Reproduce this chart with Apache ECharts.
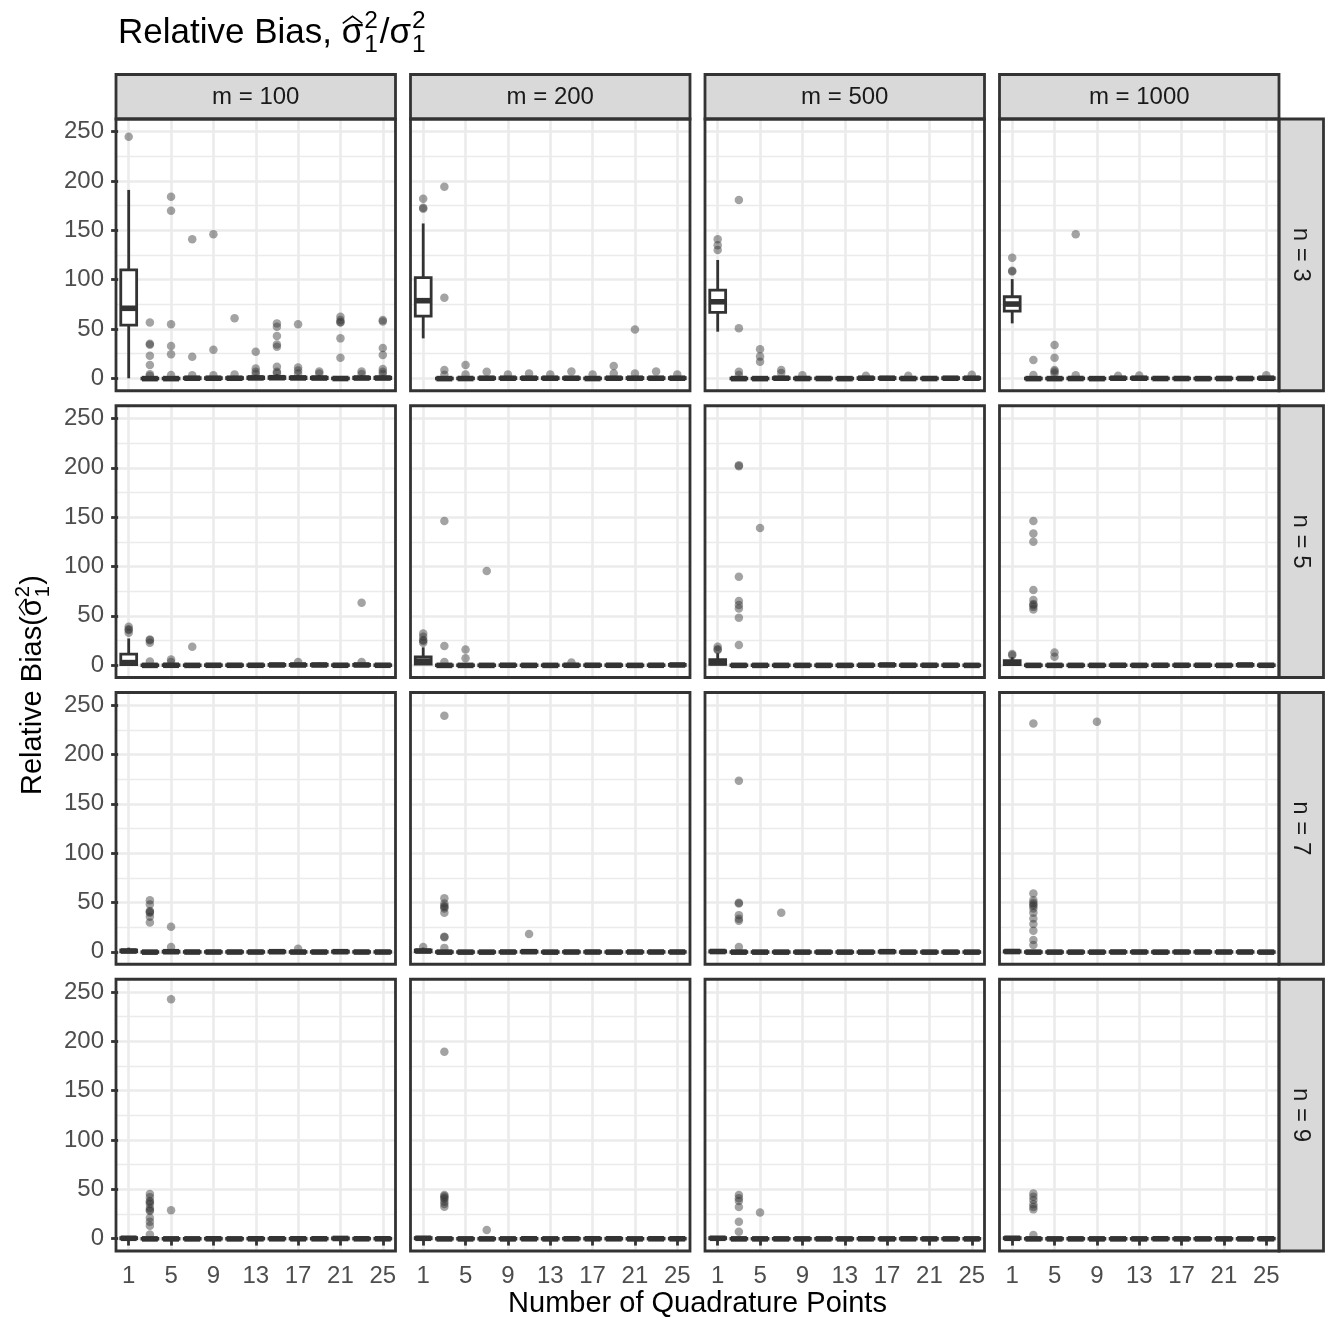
<!DOCTYPE html>
<html><head><meta charset="utf-8">
<script src="https://cdn.jsdelivr.net/npm/echarts@6/dist/echarts.min.js"></script>
<style>html,body{margin:0;padding:0;background:#fff}#c{width:1333px;height:1324px}</style>
</head><body><div id="c"></div>
<script>
// ---------------- data ----------------
const quadPoints = [1,3,5,7,9,11,13,15,17,19,21,23,25];
const xTickValues = [1,5,9,13,17,21,25];
const yTickValues = [0,50,100,150,200,250];
const yMinorValues = [25,75,125,175,225];
const mLabels = ['m = 100','m = 200','m = 500','m = 1000'];
const nLabels = ['n = 3','n = 5','n = 7','n = 9'];

// box stats [min, Q1, median, Q3, max] for each quadrature point
const box_n3_m100 = [[0,54,71,110,191],[-0.9,-0.6,-0.3,0.2,1.2],[-0.9,-0.6,-0.3,0.2,1.2],[-0.9,-0.4,0.1,0.7,2.2],[-0.9,-0.4,0.1,0.7,2.2],[-0.9,-0.4,0.1,0.8,2.4],[-0.9,-0.3,0.4,1.3,3.6],[-0.9,-0.2,0.6,1.6,4.2],[-0.9,-0.3,0.4,1.3,3.6],[-0.9,-0.3,0.3,1.1,3.2],[-0.9,-0.5,-0.2,0.3,1.4],[-0.9,-0.3,0.3,1.1,3.2],[-0.9,-0.3,0.3,1.1,3.0]];
const box_n3_m200 = [[40.5,63,78.7,102,157],[-0.9,-0.6,-0.3,0.2,1.2],[-0.9,-0.5,-0.2,0.3,1.4],[-0.9,-0.4,0.1,0.7,2.2],[-0.9,-0.4,0.1,0.7,2.2],[-0.9,-0.4,0.1,0.8,2.4],[-0.9,-0.4,0.1,0.7,2.2],[-0.9,-0.4,0.1,0.7,2.2],[-0.9,-0.5,-0.2,0.3,1.4],[-0.9,-0.4,0.1,0.7,2.2],[-0.9,-0.4,0.1,0.8,2.4],[-0.9,-0.4,0.1,0.7,2.2],[-0.9,-0.4,0.1,0.8,2.4]];
const box_n3_m500 = [[47.3,66.8,77.6,89.5,120],[-0.9,-0.6,-0.3,0.2,1.2],[-0.9,-0.6,-0.3,0.2,1.2],[-0.9,-0.4,0.1,0.7,2.2],[-0.9,-0.5,-0.2,0.3,1.4],[-0.9,-0.5,-0.2,0.3,1.4],[-1.0,-0.6,-0.3,0.2,1.2],[-0.9,-0.4,0.1,0.7,2.2],[-0.9,-0.4,0.1,0.8,2.4],[-0.9,-0.5,-0.2,0.3,1.4],[-0.9,-0.5,-0.2,0.3,1.4],[-0.9,-0.4,0.1,0.7,2.2],[-0.9,-0.4,0.1,0.8,2.4]];
const box_n3_m1000 = [[55.7,68.2,75.3,82.7,100.6],[-0.9,-0.6,-0.3,0.2,1.2],[-0.9,-0.6,-0.3,0.2,1.2],[-0.9,-0.5,-0.2,0.3,1.4],[-1.0,-0.6,-0.3,0.2,1.2],[-0.9,-0.4,0.1,0.7,2.2],[-0.9,-0.4,0.1,0.7,2.2],[-0.9,-0.5,-0.2,0.3,1.4],[-0.9,-0.5,-0.2,0.3,1.4],[-1.0,-0.6,-0.3,0.2,1.2],[-0.9,-0.5,-0.2,0.3,1.4],[-0.9,-0.5,-0.2,0.3,1.4],[-0.9,-0.4,0.1,0.7,2.2]];
const box_n5_m100 = [[0,0.6,2.5,11,27],[-0.9,-0.6,-0.3,0.2,1.2],[-0.9,-0.5,-0.2,0.3,1.4],[-0.9,-0.6,-0.3,0.2,1.2],[-0.9,-0.5,-0.2,0.3,1.4],[-0.9,-0.5,-0.2,0.3,1.4],[-0.9,-0.5,-0.2,0.3,1.4],[-0.9,-0.4,0.1,0.7,2.2],[-0.9,-0.4,0.1,0.7,2.2],[-0.9,-0.4,0.1,0.8,2.4],[-0.9,-0.5,-0.2,0.3,1.4],[-0.9,-0.4,0.1,0.7,2.2],[-0.9,-0.5,-0.2,0.3,1.4]];
const box_n5_m200 = [[0,0.9,4,8.4,18],[-0.9,-0.6,-0.3,0.2,1.2],[-0.9,-0.6,-0.3,0.2,1.2],[-0.9,-0.6,-0.3,0.2,1.2],[-0.9,-0.5,-0.2,0.3,1.4],[-1.0,-0.6,-0.3,0.2,1.2],[-0.9,-0.6,-0.3,0.2,1.2],[-0.9,-0.5,-0.2,0.3,1.4],[-0.9,-0.5,-0.2,0.3,1.4],[-0.9,-0.5,-0.2,0.3,1.4],[-1.0,-0.6,-0.3,0.2,1.2],[-0.9,-0.5,-0.2,0.3,1.4],[-0.9,-0.4,0.1,0.7,2.2]];
const box_n5_m500 = [[0,0.8,2.5,5.5,12],[-0.9,-0.6,-0.3,0.2,1.2],[-0.9,-0.6,-0.3,0.2,1.2],[-1.0,-0.6,-0.3,0.2,1.2],[-0.9,-0.6,-0.3,0.2,1.2],[-0.9,-0.6,-0.3,0.2,1.2],[-1.0,-0.6,-0.3,0.2,1.2],[-0.9,-0.5,-0.2,0.3,1.4],[-0.9,-0.4,0.1,0.7,2.2],[-0.9,-0.5,-0.2,0.3,1.4],[-1.0,-0.5,-0.2,0.3,1.4],[-0.9,-0.5,-0.2,0.3,1.4],[-0.9,-0.6,-0.3,0.2,1.2]];
const box_n5_m1000 = [[0,0.5,2,4.5,8],[-0.9,-0.6,-0.3,0.2,1.2],[-1.0,-0.6,-0.3,0.2,1.2],[-1.0,-0.6,-0.3,0.2,1.2],[-0.9,-0.6,-0.3,0.2,1.2],[-0.9,-0.5,-0.2,0.3,1.4],[-0.9,-0.6,-0.3,0.2,1.2],[-0.9,-0.5,-0.2,0.3,1.4],[-0.9,-0.5,-0.2,0.3,1.4],[-0.9,-0.5,-0.2,0.3,1.4],[-0.9,-0.6,-0.3,0.2,1.2],[-0.9,-0.4,0.1,0.7,2.2],[-0.9,-0.5,-0.2,0.3,1.4]];
const box_n7_m100 = [[-0.5,0.1,0.8,1.8,4.2],[-0.9,-0.6,-0.3,0.2,1.2],[-0.9,-0.4,0.1,0.7,2.2],[-0.9,-0.5,-0.2,0.3,1.4],[-0.9,-0.5,-0.2,0.3,1.4],[-0.9,-0.5,-0.2,0.3,1.4],[-0.9,-0.5,-0.2,0.3,1.4],[-0.9,-0.4,0.1,0.7,2.2],[-0.9,-0.5,-0.2,0.3,1.4],[-0.9,-0.5,-0.2,0.3,1.4],[-0.9,-0.4,0.1,0.7,2.2],[-0.9,-0.5,-0.2,0.3,1.4],[-0.9,-0.5,-0.2,0.3,1.4]];
const box_n7_m200 = [[-0.5,0.1,0.8,1.8,4.2],[-0.9,-0.6,-0.3,0.2,1.2],[-0.9,-0.6,-0.3,0.2,1.2],[-1.0,-0.6,-0.3,0.2,1.2],[-1.0,-0.5,-0.2,0.3,1.4],[-0.9,-0.4,0.1,0.7,2.2],[-1.0,-0.6,-0.3,0.2,1.2],[-0.9,-0.5,-0.2,0.3,1.4],[-0.9,-0.5,-0.2,0.3,1.4],[-1.0,-0.6,-0.3,0.2,1.2],[-0.9,-0.5,-0.2,0.3,1.4],[-0.9,-0.5,-0.2,0.3,1.4],[-1.0,-0.5,-0.2,0.3,1.4]];
const box_n7_m500 = [[-0.6,-0.2,0.3,1.0,2.6],[-0.9,-0.6,-0.3,0.2,1.2],[-1.0,-0.6,-0.3,0.2,1.2],[-1.0,-0.6,-0.3,0.2,1.2],[-0.9,-0.6,-0.3,0.2,1.2],[-0.9,-0.6,-0.3,0.2,1.2],[-0.9,-0.6,-0.3,0.2,1.2],[-0.9,-0.6,-0.3,0.2,1.2],[-0.9,-0.4,0.1,0.7,2.2],[-0.9,-0.6,-0.3,0.2,1.2],[-0.9,-0.6,-0.3,0.2,1.2],[-0.9,-0.6,-0.3,0.2,1.2],[-0.9,-0.6,-0.3,0.2,1.2]];
const box_n7_m1000 = [[-0.6,-0.2,0.3,1.0,2.6],[-0.9,-0.6,-0.3,0.2,1.2],[-1.0,-0.6,-0.3,0.2,1.2],[-0.9,-0.6,-0.3,0.2,1.2],[-0.9,-0.6,-0.3,0.2,1.2],[-0.9,-0.5,-0.2,0.3,1.4],[-1.0,-0.5,-0.2,0.3,1.4],[-0.9,-0.6,-0.3,0.2,1.2],[-0.9,-0.5,-0.2,0.3,1.4],[-0.9,-0.5,-0.2,0.3,1.4],[-0.9,-0.5,-0.2,0.3,1.4],[-0.9,-0.5,-0.2,0.3,1.4],[-0.9,-0.6,-0.3,0.2,1.2]];
const box_n9_m100 = [[-0.6,-0.2,0.3,1.0,2.6],[-0.9,-0.6,-0.3,0.2,1.2],[-0.9,-0.6,-0.3,0.2,1.2],[-0.9,-0.6,-0.3,0.2,1.2],[-0.9,-0.5,-0.2,0.3,1.4],[-1.0,-0.6,-0.3,0.2,1.2],[-0.9,-0.5,-0.2,0.3,1.4],[-0.9,-0.5,-0.2,0.3,1.4],[-0.9,-0.5,-0.2,0.3,1.4],[-0.9,-0.5,-0.2,0.3,1.4],[-0.9,-0.4,0.1,0.7,2.2],[-0.9,-0.5,-0.2,0.3,1.4],[-0.9,-0.5,-0.2,0.3,1.4]];
const box_n9_m200 = [[-0.6,-0.2,0.3,1.0,2.6],[-0.9,-0.6,-0.3,0.2,1.2],[-0.9,-0.6,-0.3,0.2,1.2],[-1.0,-0.6,-0.3,0.2,1.2],[-1.0,-0.6,-0.3,0.2,1.2],[-0.9,-0.5,-0.2,0.3,1.4],[-1.0,-0.6,-0.3,0.2,1.2],[-0.9,-0.5,-0.2,0.3,1.4],[-0.9,-0.5,-0.2,0.3,1.4],[-0.9,-0.5,-0.2,0.3,1.4],[-0.9,-0.6,-0.3,0.2,1.2],[-0.9,-0.5,-0.2,0.3,1.4],[-0.9,-0.5,-0.2,0.3,1.4]];
const box_n9_m500 = [[-0.6,-0.2,0.3,1.0,2.6],[-0.9,-0.6,-0.3,0.2,1.2],[-1.0,-0.6,-0.3,0.2,1.2],[-1.0,-0.6,-0.3,0.2,1.2],[-1.0,-0.6,-0.3,0.2,1.2],[-0.9,-0.6,-0.3,0.2,1.2],[-0.9,-0.6,-0.3,0.2,1.2],[-0.9,-0.5,-0.2,0.3,1.4],[-0.9,-0.6,-0.3,0.2,1.2],[-0.9,-0.5,-0.2,0.3,1.4],[-0.9,-0.6,-0.3,0.2,1.2],[-0.9,-0.6,-0.3,0.2,1.2],[-0.9,-0.6,-0.3,0.2,1.2]];
const box_n9_m1000 = [[-0.6,-0.2,0.3,1.0,2.6],[-0.9,-0.6,-0.3,0.2,1.2],[-1.0,-0.6,-0.3,0.2,1.2],[-0.9,-0.6,-0.3,0.2,1.2],[-0.9,-0.6,-0.3,0.2,1.2],[-0.9,-0.6,-0.3,0.2,1.2],[-0.9,-0.6,-0.3,0.2,1.2],[-0.9,-0.5,-0.2,0.3,1.4],[-0.9,-0.6,-0.3,0.2,1.2],[-0.9,-0.6,-0.3,0.2,1.2],[-0.9,-0.6,-0.3,0.2,1.2],[-0.9,-0.6,-0.3,0.2,1.2],[-0.9,-0.5,-0.2,0.3,1.4]];

// outliers [quadrature points, relative bias]
const out_n3_m100 = [[1,245],[3,56.7],[3,35],[3,34],[3,22.9],[3,13.5],[3,4.2],[3,2.5],[5,184],[5,170],[5,54.7],[5,32.7],[5,24.3],[5,3.3],[7,141],[7,21.9],[7,3],[9,146],[9,29],[9,3.2],[11,60.8],[11,4],[13,27],[13,10],[13,6.7],[13,4.5],[15,55.7],[15,52.3],[15,42.9],[15,34.4],[15,32],[15,11.8],[15,6.7],[15,5.5],[17,54.7],[17,11],[17,8],[17,5],[19,7],[19,5],[21,62.4],[21,59],[21,57],[21,56.5],[21,40.5],[21,20.9],[23,7],[23,4.5],[25,59],[25,57.5],[25,30.7],[25,23.6],[25,9.5],[25,6.7],[25,4.5]];
const out_n3_m200 = [[1,182],[1,173],[1,172],[3,194.2],[3,81.7],[3,8.4],[3,3.5],[5,13.5],[5,4],[7,6.7],[9,4],[11,5],[13,4],[15,7],[17,4],[19,12.5],[19,5],[21,49.6],[21,5],[23,7],[25,4]];
const out_n3_m500 = [[1,141],[1,135],[1,130],[3,180.7],[3,50.7],[3,6.7],[3,3.3],[5,29.4],[5,22],[5,16.9],[7,8.4],[7,5.5],[9,3],[15,2.5],[19,2.5],[25,3.5]];
const out_n3_m1000 = [[1,122.3],[1,109],[1,108.4],[3,18.5],[3,3.3],[5,33.7],[5,20.9],[5,8.4],[5,7],[5,5],[7,146],[7,3],[11,2.5],[13,2.8],[25,3]];
const out_n5_m100 = [[1,38.8],[1,36.2],[1,35.5],[1,32.7],[3,26],[3,25.2],[3,22.6],[3,3.5],[5,5.7],[5,3],[7,18.6],[17,3],[23,63.2],[23,3]];
const out_n5_m200 = [[1,32],[1,28.8],[1,25.5],[1,24.7],[1,22.6],[3,146],[3,19.3],[3,3],[5,15.9],[5,6.8],[7,95.3],[15,2.5]];
const out_n5_m500 = [[1,18.6],[1,16],[1,15.2],[3,202.5],[3,201.5],[3,89.5],[3,64.9],[3,60.8],[3,57.4],[3,48],[3,20.3],[5,139]];
const out_n5_m1000 = [[1,11.1],[1,10],[3,146],[3,133.5],[3,125],[3,76],[3,65.9],[3,61.8],[3,61],[3,59],[3,56.4],[5,12.8],[5,8.4]];
const out_n7_m100 = [[3,52.4],[3,48],[3,41.3],[3,40.5],[3,39.6],[3,35.6],[3,29.8],[5,25.4],[5,5],[17,3]];
const out_n7_m200 = [[1,5],[3,239.3],[3,54.2],[3,49],[3,46.4],[3,45.5],[3,44],[3,39.6],[3,15.3],[3,14.8],[3,4],[11,18]];
const out_n7_m500 = [[3,173.4],[3,49.7],[3,49],[3,37.2],[3,33.6],[3,31.5],[3,5],[7,39.6]];
const out_n7_m1000 = [[3,231.5],[3,59.2],[3,52.4],[3,49.7],[3,48],[3,46.4],[3,44],[3,39.6],[3,33.9],[3,28.1],[3,21.4],[3,11.9],[3,6.8],[9,233.2]];
const out_n9_m100 = [[3,45.1],[3,42],[3,38],[3,37],[3,35],[3,31],[3,28.9],[3,28],[3,21.1],[3,17],[3,13],[3,4.2],[5,242.7],[5,28.6]];
const out_n9_m200 = [[3,189.3],[3,44.1],[3,43],[3,41.4],[3,40],[3,37.3],[3,35],[3,32.2],[7,8.6]];
const out_n9_m500 = [[3,44.1],[3,41],[3,38],[3,31.9],[3,17],[3,6.9],[5,26.5]];
const out_n9_m1000 = [[3,45.8],[3,42.5],[3,39.1],[3,34.7],[3,32],[3,29.6],[3,3.5]];

const panelBoxes = [
  [box_n3_m100, box_n3_m200, box_n3_m500, box_n3_m1000],
  [box_n5_m100, box_n5_m200, box_n5_m500, box_n5_m1000],
  [box_n7_m100, box_n7_m200, box_n7_m500, box_n7_m1000],
  [box_n9_m100, box_n9_m200, box_n9_m500, box_n9_m1000]
];
const panelOutliers = [
  [out_n3_m100, out_n3_m200, out_n3_m500, out_n3_m1000],
  [out_n5_m100, out_n5_m200, out_n5_m500, out_n5_m1000],
  [out_n7_m100, out_n7_m200, out_n7_m500, out_n7_m1000],
  [out_n9_m100, out_n9_m200, out_n9_m500, out_n9_m1000]
];

// ---------------- layout / style ----------------
const FONT = '"Liberation Sans", Arial, Helvetica, sans-serif';
const PANEL_LEFT = [116, 410.5, 705, 999.5], PANEL_W = 279.5;
const PANEL_TOP = [119, 405.75, 692.5, 979.25], PANEL_H = 271.75;
const STRIP_TOP = 74.5, STRIP_W = 44.5;
const Y_MIN = -12.6, Y_MAX = 262.9, X_MIN = -0.2, X_MAX = 26.2;
const LINE = '#333333', LW = 2.8;
const BOX_HALF = 0.75;
const TICK_FONT = 24;

const chart = echarts.init(document.getElementById('c'), null, {renderer: 'canvas'});

const grids = [], xAxes = [], yAxes = [], series = [], graphics = [];
for (let r = 0; r < 4; r++) {
  for (let c = 0; c < 4; c++) {
    const i = r * 4 + c;
    const bottomRow = r === 3, leftCol = c === 0;
    grids.push({left: PANEL_LEFT[c], top: PANEL_TOP[r], width: PANEL_W, height: PANEL_H,
      show: true, backgroundColor: '#ffffff', borderWidth: 0, containLabel: false, outerBoundsMode: 'none'});
    xAxes.push({type: 'value', gridIndex: i, min: X_MIN, max: X_MAX,
      axisLine: {show: false},
      axisTick: {show: bottomRow, customValues: xTickValues, length: 7, lineStyle: {color: LINE, width: LW}},
      axisLabel: {show: bottomRow, customValues: xTickValues, margin: 13, fontSize: TICK_FONT, color: '#4D4D4D', fontFamily: FONT},
      splitLine: {show: true, lineStyle: {color: '#EBEBEB', width: 2.6}}});
    yAxes.push({type: 'value', gridIndex: i, min: Y_MIN, max: Y_MAX, position: 'left',
      axisLine: {show: false},
      axisTick: {show: leftCol, customValues: yTickValues, length: 7, lineStyle: {color: LINE, width: LW}},
      axisLabel: {show: leftCol, customValues: yTickValues, margin: 12, fontSize: TICK_FONT, color: '#4D4D4D', fontFamily: FONT},
      splitLine: {show: true, lineStyle: {color: '#EBEBEB', width: 2.6}}});
    yAxes.push({type: 'value', gridIndex: i, min: Y_MIN, max: Y_MAX, position: 'right',
      axisLine: {show: false},
      axisTick: {show: false, customValues: yMinorValues},
      axisLabel: {show: false},
      splitLine: {show: true, lineStyle: {color: '#EBEBEB', width: 1.3}}});
    series.push({type: 'scatter', xAxisIndex: i, yAxisIndex: 2 * i, data: panelOutliers[r][c],
      symbol: 'circle', symbolSize: 8.5, itemStyle: {color: LINE, opacity: 0.45}, z: 2, silent: true});
    series.push({type: 'custom', xAxisIndex: i, yAxisIndex: 2 * i, z: 3, silent: true, clip: false,
      data: panelBoxes[r][c].map((b, k) => [quadPoints[k]].concat(b)),
      encode: {x: 0, y: [1, 2, 3, 4, 5]},
      renderItem: function (params, api) {
        const x = api.value(0);
        const pMin = api.coord([x, api.value(1)]);
        const pQ1 = api.coord([x - BOX_HALF, api.value(2)]);
        const pMed = api.coord([x, api.value(3)]);
        const pQ3 = api.coord([x + BOX_HALF, api.value(4)]);
        const pMax = api.coord([x, api.value(5)]);
        const st = {stroke: LINE, lineWidth: LW, fill: null};
        return {type: 'group', children: [
          {type: 'line', shape: {x1: pMax[0], y1: pMax[1], x2: pMax[0], y2: pQ3[1]}, style: st},
          {type: 'line', shape: {x1: pMin[0], y1: pMin[1], x2: pMin[0], y2: pQ1[1]}, style: st},
          {type: 'rect', shape: {x: pQ1[0], y: pQ3[1], width: pQ3[0] - pQ1[0], height: pQ1[1] - pQ3[1]},
            style: {fill: '#ffffff', stroke: LINE, lineWidth: LW}},
          {type: 'line', shape: {x1: pQ1[0], y1: pMed[1], x2: pQ3[0], y2: pMed[1]}, style: {stroke: LINE, lineWidth: LW * 2}}
        ]};
      }});
    graphics.push({type: 'rect', z: 100, silent: true,
      shape: {x: PANEL_LEFT[c], y: PANEL_TOP[r], width: PANEL_W, height: PANEL_H},
      style: {fill: null, stroke: LINE, lineWidth: LW}});
  }
}

function txt(text, x, y, size, color, rot) {
  return {type: 'text', x: x, y: y, rotation: rot || 0, z: 101, silent: true,
    style: {text: text, fontSize: size, fontFamily: FONT, fill: color,
      align: 'center', verticalAlign: 'middle', textAlign: 'center', textVerticalAlign: 'middle'}};
}
for (let c = 0; c < 4; c++) {
  graphics.push({type: 'rect', z: 99, silent: true,
    shape: {x: PANEL_LEFT[c], y: STRIP_TOP, width: PANEL_W, height: PANEL_TOP[0] - STRIP_TOP},
    style: {fill: '#D9D9D9', stroke: LINE, lineWidth: LW}});
  graphics.push(txt(mLabels[c], PANEL_LEFT[c] + PANEL_W / 2, (STRIP_TOP + PANEL_TOP[0]) / 2 + 1, 24, '#1A1A1A'));
}
const stripX = PANEL_LEFT[3] + PANEL_W;
for (let r = 0; r < 4; r++) {
  graphics.push({type: 'rect', z: 99, silent: true,
    shape: {x: stripX, y: PANEL_TOP[r], width: STRIP_W, height: PANEL_H},
    style: {fill: '#D9D9D9', stroke: LINE, lineWidth: LW}});
  graphics.push(txt(nLabels[r], stripX + STRIP_W / 2 - 1, PANEL_TOP[r] + PANEL_H / 2, 24, '#1A1A1A', -Math.PI / 2));
}

// math-like text (sigma with hat, stacked super/subscripts)
const mctx = document.createElement('canvas').getContext('2d');
function tw(s, size) { mctx.font = size + 'px ' + FONT; return mctx.measureText(s).width; }
function mathGroup(parts, size, color) {
  const children = []; let x = 0;
  const mk = (t, xx, baseline, s) => ({type: 'text', x: xx, y: baseline - 0.3465 * s, silent: true,
    style: {text: t, fontSize: s, fontFamily: FONT, fill: color,
      align: 'left', verticalAlign: 'middle', textAlign: 'left', textVerticalAlign: 'middle'}});
  parts.forEach(p => {
    if (p.script) {
      const s = size * 0.7;
      const xs = x + size * 0.03;
      children.push(mk(p.sup, xs, -size * 0.45, s));
      children.push(mk(p.sub, xs, size * 0.24, s));
      x = xs + Math.max(tw(p.sup, s), tw(p.sub, s)) + size * 0.05;
    } else {
      const w = tw(p.text, size);
      children.push(mk(p.text, x, 0, size));
      if (p.hat) {
        children.push({type: 'polyline', silent: true,
          shape: {points: [[x + 0.03 * size, -0.62 * size], [x + w / 2, -0.82 * size], [x + w - 0.03 * size, -0.62 * size]]},
          style: {stroke: color, lineWidth: size * 0.045, fill: null}});
      }
      x += w;
    }
  });
  return {children: children, width: x};
}
const titleParts = [{text: 'Relative Bias, '}, {text: 'σ', hat: true}, {script: true, sup: '2', sub: '1'}, {text: '/'}, {text: 'σ'}, {script: true, sup: '2', sub: '1'}];
const yTitleParts = [{text: 'Relative Bias('}, {text: 'σ', hat: true}, {script: true, sup: '2', sub: '1'}, {text: ')'}];
const xTitle = 'Number of Quadrature Points';

const tg = mathGroup(titleParts, 35, '#000000');
graphics.push({type: 'group', x: 118, y: 45, z: 101, children: tg.children});
const yg = mathGroup(yTitleParts, 29, '#000000');
const panelMidY = (PANEL_TOP[0] + PANEL_TOP[3] + PANEL_H) / 2;
graphics.push({type: 'group', x: 43, y: panelMidY + yg.width / 2, rotation: Math.PI / 2, z: 101, children: yg.children});
const panelMidX = (PANEL_LEFT[0] + PANEL_LEFT[3] + PANEL_W) / 2;
graphics.push(txt(xTitle, panelMidX, 1304, 29, '#000000'));

chart.setOption({
  animation: false,
  backgroundColor: '#ffffff',
  grid: grids, xAxis: xAxes, yAxis: yAxes, series: series,
  graphic: {elements: graphics}
});
</script></body></html>
